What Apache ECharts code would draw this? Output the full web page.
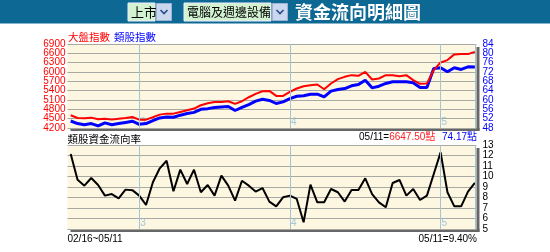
<!DOCTYPE html>
<html><head><meta charset="utf-8">
<script src="https://cdn.jsdelivr.net/npm/echarts@6/dist/echarts.min.js"></script>
<style>html,body{margin:0;padding:0;background:#fff}#c{width:550px;height:252px}</style>
</head><body><div id="c"></div>
<script>
// ---- data ----
const marketIndex = [4608,4523,4512,4533,4480,4501,4469,4501,4523,4555,
  4469,4469,4544,4630,4662,4662,4716,4770,4824,4931,
  4996,5039,5039,5060,4974,5060,5189,5297,5383,5393,
  5232,5232,5361,5469,5544,5576,5598,5447,5630,5770,
  5845,5899,5877,6006,5759,5791,5899,5899,5867,5899,
  5738,5619,5630,6060,6307,6383,6566,6576,6576,6647.5];
const sectorIndex = [51.0,49.9,49.4,49.9,48.9,50.2,49.4,49.9,50.4,50.9,
  49.6,49.9,51.2,52.3,52.7,52.6,53.5,54.2,54.7,56.0,
  56.3,56.8,57.0,57.2,55.5,56.8,58.0,59.5,60.3,59.8,
  58.5,59.2,60.6,61.6,61.8,62.5,62.5,61.3,63.8,64.5,
  64.9,66.1,66.6,68.5,65.2,65.9,67.1,67.8,67.8,67.8,
  67.4,65.4,65.4,73.5,73.8,72.1,73.8,73.1,74.2,74.17];
const flowRate = [12.15,9.7,9.13,9.86,9.19,8.18,8.33,7.92,8.75,8.7,
  8.18,7.29,9.45,10.78,11.5,8.59,10.65,9.29,10.65,8.5,
  9.19,8.18,10.08,9.13,7.7,9.6,9.13,8.56,8.9,7.61,
  7.16,8.02,8.18,7.86,5.64,9.23,7.54,7.54,8.81,8.5,
  7.61,8.71,8.71,9.83,8.33,7.54,7.07,9.38,9.67,8.18,
  8.81,7.76,8.18,10.24,12.3,8.5,7.16,7.16,8.56,9.40];
const monthStarts = [10, 32, 54];
const monthLabels = ['3', '4', '5'];
const leftTicks = [4200,4500,4800,5100,5400,5700,6000,6300,6600,6900];
const rightTicks = [48,52,56,60,64,68,72,76,80,84];
const rateTicks = [5,6,7,8,9,10,11,12,13];
const market = '上市';
const sector = '電腦及週邊設備';
const pageTitle = '資金流向明細圖';
const legendMarket = '大盤指數';
const legendSector = '類股指數';
const rateTitle = '類股資金流向率';
const lastDate = '05/11';
const dateRange = '02/16~05/11';
const lastMarket = '6647.50';
const lastSector = '74.17';
const lastRate = '9.40';

// ---- chart ----
const chart = echarts.init(document.getElementById('c'));
const N = marketIndex.length;
const xMin = -0.467, xMax = N - 1 + 0.24;
const lastIndex = N - 1;
const gridColor = '#a9a9a4';
const plotBg = '#fdf6e0';
const vColor = '#a3c3d6';
const shadowColor = '#666666';
const numFont = '"Liberation Sans", Arial, sans-serif';
const cjkFont = '"Noto Sans CJK TC", "Noto Sans CJK SC", sans-serif';
const PL = 67.5, PR = 476.5;
const topY = [44, 145], PH = 84;

function gridCfg(top) {
  return {left: PL, right: 550 - PR, top: top, height: PH, show: true,
    backgroundColor: plotBg, borderWidth: 0, containLabel: false, outerBoundsMode: 'none'};
}
function monthSeries(xi, yi, yBase) {
  return {
    type: 'scatter', xAxisIndex: xi, yAxisIndex: yi, z: 1, silent: true,
    symbolSize: 0,
    data: monthStarts.map(i => [i, yBase]),
    label: {show: true, formatter: p => monthLabels[p.dataIndex], position: 'right',
      distance: 1, offset: [0, -6], color: '#8fbbd6', fontSize: 10, fontFamily: numFont},
    markLine: {silent: true, symbol: 'none', animation: false,
      label: {show: false},
      lineStyle: {color: vColor, width: 1, type: 'solid'},
      data: monthStarts.concat([lastIndex]).map(i => ({xAxis: i}))}
  };
}
// mode: 'inner' = all ticks except the ends, 'ends' = only the two end ticks, 'all'
function yAxisCfg(grid, pos, ticks, color, margin, pad, split, mode) {
  const lo = ticks[0], hi = ticks[ticks.length-1];
  return {gridIndex: grid, type: 'value', position: pos, offset: 0, min: lo, max: hi,
    interval: mode === 'ends' ? hi - lo : ticks[1]-ticks[0],
    axisLine: {show: false}, axisTick: {show: false},
    axisLabel: {color: color, fontSize: 10, fontFamily: numFont, margin: margin, padding: pad,
      showMinLabel: mode !== 'inner', showMaxLabel: mode !== 'inner', hideOverlap: false,
      formatter: v => String(v)},
    splitLine: {show: split, lineStyle: {color: gridColor, width: 1}}};
}
const shadows = [];
topY.forEach(t => {
  shadows.push({type: 'rect', silent: true, shape: {x: PR, y: t + 3, width: 3, height: PH}, style: {fill: shadowColor}});
  shadows.push({type: 'rect', silent: true, shape: {x: PL + 3, y: t + PH, width: PR - PL, height: 3}, style: {fill: shadowColor}});
});

const option = {
  animation: false,
  backgroundColor: '#fff',
  grid: [gridCfg(topY[0]), gridCfg(topY[1])],
  xAxis: [
    {gridIndex: 0, type: 'value', min: xMin, max: xMax, show: false},
    {gridIndex: 1, type: 'value', min: xMin, max: xMax, show: false}
  ],
  yAxis: [
    yAxisCfg(0, 'left', leftTicks, '#ff0000', 2, [0,0,2,0], true, 'inner'),
    yAxisCfg(0, 'right', rightTicks, '#0000ff', 6, [0,0,2,0], false, 'inner'),
    yAxisCfg(1, 'right', rateTicks, '#000000', 6, [0,0,3,0], true, 'all'),
    yAxisCfg(0, 'left', leftTicks, '#ff0000', 2, [0,0,2,0], false, 'ends'),
    yAxisCfg(0, 'right', rightTicks, '#0000ff', 6, [0,0,2,0], false, 'ends')
  ],
  series: [
    monthSeries(0, 0, leftTicks[0]),
    {type: 'line', xAxisIndex: 0, yAxisIndex: 1, z: 2, symbol: 'none', silent: true,
      data: sectorIndex.map((v, i) => [i, v]),
      lineStyle: {color: '#0000ff', width: 3}},
    {type: 'line', xAxisIndex: 0, yAxisIndex: 0, z: 3, symbol: 'none', silent: true,
      data: marketIndex.map((v, i) => [i, v]),
      lineStyle: {color: '#ff0000', width: 2}},
    monthSeries(1, 2, rateTicks[0]),
    {type: 'line', xAxisIndex: 1, yAxisIndex: 2, z: 2, symbol: 'none', silent: true,
      data: flowRate.map((v, i) => [i, v]),
      lineStyle: {color: '#000', width: 2}}
  ],
  graphic: shadows.concat([
    {type: 'rect', shape: {x: 0, y: 0, width: 550, height: 23.5}, style: {fill: '#0d6893'}, silent: true},
    // select 1
    {type: 'rect', shape: {x: 128, y: 3, width: 27, height: 18}, style: {fill: '#d2f2d2', stroke: '#eef', lineWidth: 1}},
    {type: 'text', x: 131, y: 12, style: {text: market, fill: '#000', font: '13px ' + cjkFont, verticalAlign: 'middle'}},
    {type: 'rect', shape: {x: 156.5, y: 3.5, width: 15, height: 17}, style: {fill: '#c9d7ef', stroke: '#9fb3d6', lineWidth: 1}},
    {type: 'polyline', shape: {points: [[160.5, 10], [164, 13.5], [167.5, 10]]}, style: {stroke: '#2c4a8a', lineWidth: 1.6, fill: null}},
    // select 2
    {type: 'rect', shape: {x: 184, y: 3, width: 87, height: 18}, style: {fill: '#d2f2d2', stroke: '#eef', lineWidth: 1}},
    {type: 'text', x: 187, y: 12, style: {text: sector, fill: '#000', font: '12px ' + cjkFont, verticalAlign: 'middle'}},
    {type: 'rect', shape: {x: 272.5, y: 3.5, width: 15, height: 17}, style: {fill: '#c9d7ef', stroke: '#9fb3d6', lineWidth: 1}},
    {type: 'polyline', shape: {points: [[276.5, 10], [280, 13.5], [283.5, 10]]}, style: {stroke: '#2c4a8a', lineWidth: 1.6, fill: null}},
    // title
    {type: 'text', x: 295, y: 12, style: {text: pageTitle, fill: '#fff', font: 'bold 18px ' + cjkFont, verticalAlign: 'middle'}},
    // legend
    {type: 'text', x: 68, y: 37.5, style: {text: legendMarket, fill: '#ff0000', font: '10.5px ' + cjkFont, verticalAlign: 'middle'}},
    {type: 'text', x: 114, y: 37.5, style: {text: legendSector, fill: '#0000ff', font: '10.5px ' + cjkFont, verticalAlign: 'middle'}},
    // middle texts
    {type: 'text', x: 67.5, y: 139, style: {text: rateTitle, fill: '#000', font: '10.5px ' + cjkFont, verticalAlign: 'middle'}},
    {type: 'text', x: 477, y: 137.5, style: {
      text: '{k|' + lastDate + '=}{r|' + lastMarket + '點}  {b|' + lastSector + '點}',
      align: 'right', verticalAlign: 'middle',
      rich: {
        k: {fill: '#000', font: '10px ' + numFont},
        r: {fill: '#ff2020', font: '10px ' + numFont + ', ' + cjkFont},
        b: {fill: '#0000ff', font: '10px ' + numFont + ', ' + cjkFont}
      }}},
    // bottom texts
    {type: 'text', x: 67.5, y: 239, style: {text: dateRange, fill: '#000', font: '10px ' + numFont, verticalAlign: 'middle'}},
    {type: 'text', x: 477, y: 239, style: {text: lastDate + '=' + lastRate + '%', fill: '#000', font: '10px ' + numFont, align: 'right', verticalAlign: 'middle'}}
  ])
};
chart.setOption(option);
</script>
</body></html>
